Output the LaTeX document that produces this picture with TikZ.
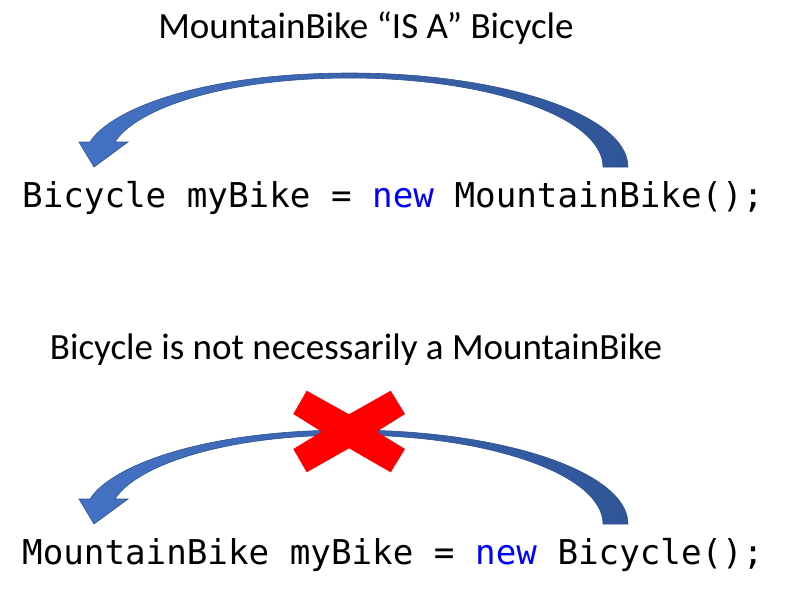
\documentclass[tikz,border=0pt]{standalone}
\usepackage{fontspec}
\setmainfont{Carlito}
\setmonofont{DejaVu Sans Mono}
\usetikzlibrary{positioning}
\definecolor{arrowlight}{RGB}{68,114,196}
\definecolor{arrowdark}{RGB}{47,85,151}
\definecolor{arrowline}{RGB}{47,82,143}
\definecolor{keyword}{RGB}{0,0,255}
\definecolor{crossred}{RGB}{255,0,0}
\newcommand{\kw}[1]{\textcolor{keyword}{#1}}
\tikzstyle{caption} = [font=\fontsize{37}{44}\selectfont, inner sep=0pt, anchor=base]
\tikzstyle{code} = [font=\ttfamily\fontsize{34.2}{40}\selectfont, inner sep=0pt, anchor=base west]
\tikzstyle{bikearrow} = [draw=arrowline, line width=0.6pt, left color=arrowlight, right color=arrowdark]

\begin{document}
\begin{tikzpicture}[x=1pt, y=-1pt]
\useasboundingbox (0,0) rectangle (787,598);

% texts =============================
\node[caption] (isa) at (366,38) {MountainBike “IS A” Bicycle};
\node[code] (line1) at (22,207) {Bicycle myBike = \kw{new} MountainBike();};
\node[caption] (note) at (356,359) {Bicycle is not necessarily a MountainBike};
\node[code] (line2) at (22,564) {MountainBike myBike = \kw{new} Bicycle();};

% curved arrows
\foreach \dy in {0,357} {
\begin{scope}[shift={(0,\dy)}]
\shade[bikearrow] (628,167) .. controls (628,115) and (503,73) .. (350,73)
  .. controls (200,73) and (110,110) .. (90,142) -- (79,142) -- (94,167) -- (128,142) -- (115,142)
  .. controls (135,110) and (220,78) .. (350,78) .. controls (490,78) and (603,118) .. (603,167) -- cycle;
\end{scope}
}

% red cross
\fill[crossred] (306.7,390.7) -- (349,414.3) -- (390.7,390.7) -- (405,414) -- (376.7,431.7) -- (405,449)
  -- (390.7,472.3) -- (349,448.3) -- (306.7,472.3) -- (293.3,449) -- (321.7,431.7) -- (293.3,414) -- cycle;

\end{tikzpicture}
\end{document}
